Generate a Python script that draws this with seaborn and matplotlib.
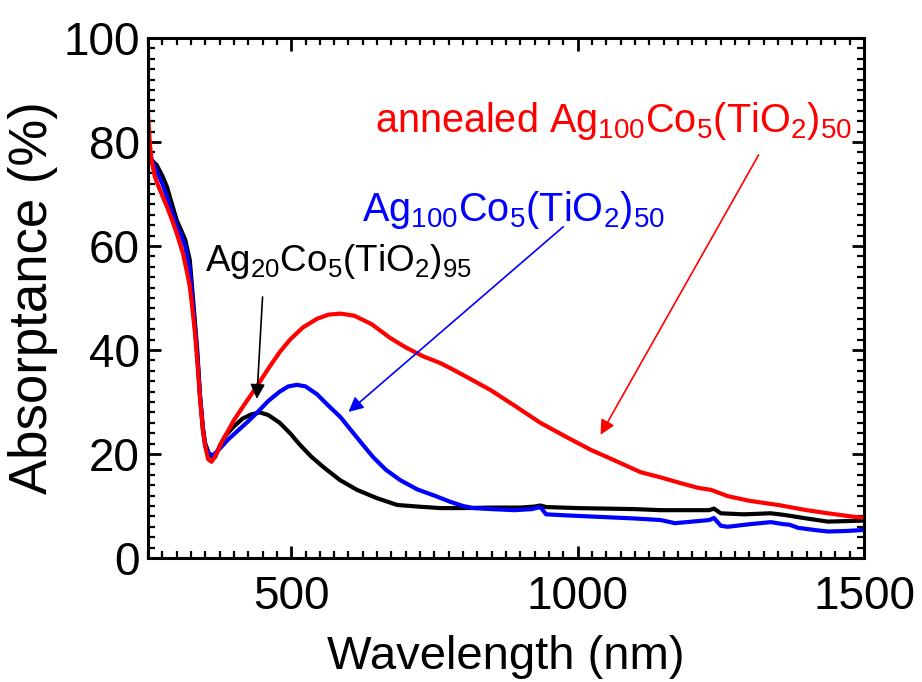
import numpy as np
import pandas as pd
import matplotlib
matplotlib.use("Agg")
import matplotlib.pyplot as plt
from matplotlib.ticker import MultipleLocator
import seaborn as sns

# %% Data

# Ag20Co5(TiO2)95 (black)
wl_black = [250, 258, 265, 275, 283, 292, 300, 308, 315, 323, 330, 336, 341,
            346, 350, 356, 362, 367, 375, 385, 399, 415, 430, 445, 460, 480,
            498, 515, 535, 556, 585, 615, 650, 685, 720, 760, 800, 850, 900,
            925, 935, 945, 1000, 1050, 1100, 1145, 1200, 1230, 1238, 1250,
            1290, 1337, 1360, 1400, 1437, 1470, 1500]
ab_black = [77.2, 76.3, 75.6, 73.5, 71.4, 68, 65, 63, 61.2, 57.3, 48, 40, 31,
            25, 22, 20.2, 19.5, 19.4, 21.5, 23.5, 25.2, 26.8, 27.6, 28, 27.5,
            26, 24, 21.8, 19.5, 17.5, 15, 13.1, 11.5, 10.2, 9.9, 9.6, 9.6,
            9.7, 9.7, 9.9, 10.1, 9.8, 9.6, 9.5, 9.4, 9.2, 9.2, 9.2, 9.5, 8.6,
            8.4, 8.6, 8.3, 7.6, 7.0, 7.1, 7.2]

# Ag100Co5(TiO2)50 (blue)
wl_blue = [250, 255, 265, 275, 283, 292, 300, 308, 315, 323, 330, 336, 341,
           346, 350, 356, 364, 375, 390, 410, 425, 440, 460, 480, 495, 510,
           525, 545, 565, 586, 605, 625, 643, 665, 690, 720, 750, 778, 800,
           818, 850, 890, 920, 935, 945, 980, 1020, 1060, 1100, 1145, 1170,
           1200, 1230, 1238, 1250, 1262, 1300, 1337, 1360, 1370, 1385, 1420,
           1437, 1470, 1500]
ab_blue = [82, 77, 74.5, 72, 69.5, 66.5, 64, 62, 60, 55.5, 47, 39, 31, 24.5,
           21.5, 20, 19.8, 21, 22.8, 24.8, 26.3, 27.9, 30.2, 32, 33, 33.3, 33,
           31.5, 29.3, 27.1, 24.5, 21.8, 19.4, 17, 15, 13.2, 12, 10.8, 10,
           9.6, 9.4, 9.2, 9.4, 9.8, 8.4, 8.2, 8, 7.8, 7.6, 7.3, 6.7, 7, 7.3,
           7.7, 6.2, 6, 6.5, 6.9, 6.5, 6.4, 5.8, 5.3, 5.1, 5.2, 5.4]

# annealed Ag100Co5(TiO2)50 (red)
wl_red = [250, 253, 256, 262, 270, 283, 292, 300, 311, 318, 323, 328, 332,
          337, 341, 346, 350, 355, 361, 367, 380, 400, 420, 440, 460, 480,
          498, 520, 545, 565, 586, 610, 640, 673, 700, 730, 760, 778, 810,
          848, 890, 935, 980, 1023, 1070, 1110, 1145, 1180, 1210, 1233, 1262,
          1300, 1350, 1400, 1437, 1470, 1500]
ab_red = [85.6, 80, 76.5, 73.3, 71, 67.6, 65, 62.5, 58.6, 55, 52.2, 47.5,
          43.3, 36.5, 30.4, 24.5, 21.4, 19, 18.5, 19.5, 22.5, 26.5, 29.8, 33,
          36.4, 39.6, 42, 44.3, 46, 46.8, 47, 46.6, 45, 42.3, 40.5, 38.8,
          37.5, 36.5, 34.6, 32.3, 29.3, 26, 23.3, 20.8, 18.5, 16.5, 15.5,
          14.4, 13.5, 13.1, 11.9, 11, 10.2, 9.2, 8.6, 8.1, 7.7]

labels = [r"Ag$_{20}$Co$_{5}$(TiO$_{2}$)$_{95}$",
          r"Ag$_{100}$Co$_{5}$(TiO$_{2}$)$_{50}$",
          r"annealed Ag$_{100}$Co$_{5}$(TiO$_{2}$)$_{50}$"]

# %% Style
sns.set_style("ticks")
plt.rcParams['font.family'] = ['Liberation Sans', 'DejaVu Sans']
plt.rcParams['mathtext.fontset'] = 'custom'
plt.rcParams['mathtext.rm'] = 'Liberation Sans'
plt.rcParams['mathtext.it'] = 'Liberation Sans'
plt.rcParams['mathtext.default'] = 'regular'
plt.rcParams['text.color'] = 'black'
plt.rcParams['axes.labelcolor'] = 'black'
plt.rcParams['xtick.color'] = 'black'
plt.rcParams['ytick.color'] = 'black'

fig = plt.figure(figsize=(9.22, 6.82), dpi=100)
ax = fig.add_axes([0.1605, 0.1818, 0.7766, 0.7625])

sns.lineplot(x=wl_black, y=ab_black, color='black', linewidth=3, ax=ax)
sns.lineplot(x=wl_blue, y=ab_blue, color='blue', linewidth=3, ax=ax)
sns.lineplot(x=wl_red, y=ab_red, color='red', linewidth=3, ax=ax)

ax.set_xlim(250, 1500)
ax.set_ylim(0, 100)
ax.xaxis.set_major_locator(MultipleLocator(500))
ax.xaxis.set_minor_locator(MultipleLocator(25))
ax.yaxis.set_major_locator(MultipleLocator(20))
ax.yaxis.set_minor_locator(MultipleLocator(2))
ax.tick_params(which='both', direction='in', top=True, right=True)
ax.tick_params(which='major', length=9, width=2, labelsize=33)
ax.tick_params(axis='x', which='major', pad=12)
ax.tick_params(axis='y', which='major', pad=6)
ax.tick_params(which='minor', length=5, width=1.6)
for s in ax.spines.values():
    s.set_linewidth(2.2)
    s.set_color('black')

ax.set_xlabel("Wavelength (nm)", fontsize=34, va='center')
ax.set_ylabel("Absorptance (%)", fontsize=38, va='center')
ax.xaxis.set_label_coords(0.5, -0.19)
ax.yaxis.set_label_coords(-0.16, 0.5)

# %% Annotations
arrow = dict(arrowstyle='-|>', lw=1.2, mutation_scale=22,
             shrinkA=0, shrinkB=0)
ax.annotate("", xy=(440, 30.6), xytext=(450, 50.2),
            arrowprops=dict(arrow, color='black'))
ax.annotate("", xy=(600, 28.1), xytext=(975, 63.7),
            arrowprops=dict(arrow, color='blue'))
ax.annotate("", xy=(1040, 23.7), xytext=(1316, 77.5),
            arrowprops=dict(arrow, color='red'))
ax.text(350, 57, labels[0], color='black', fontsize=26.5, ha='left',
        va='center')
ax.text(624, 67, labels[1], color='blue', fontsize=28.5, ha='left',
        va='center')
ax.text(647, 84, labels[2], color='red', fontsize=28.5, ha='left',
        va='center')

fig.savefig("out.png", dpi=100)
